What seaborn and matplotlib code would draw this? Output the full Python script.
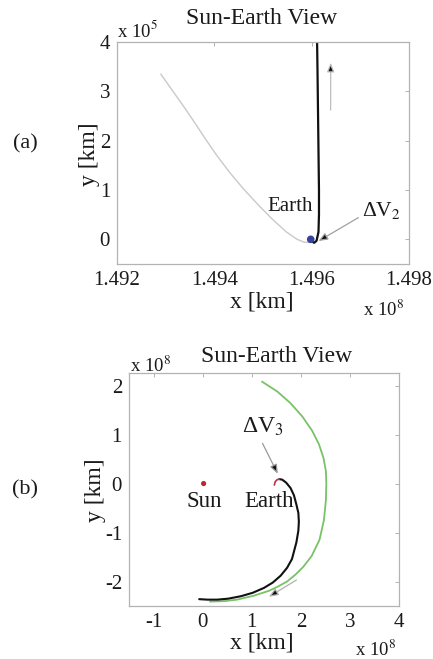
import matplotlib
matplotlib.use("Agg")
import matplotlib.pyplot as plt
import seaborn as sns
import pandas as pd

sns.set_theme(style="white")
plt.rcParams["font.family"] = ["Liberation Serif", "DejaVu Serif"]
plt.rcParams["mathtext.fontset"] = "stix"
plt.rcParams["axes.unicode_minus"] = False

# ---- panel (a): x in 1e8 km, y in 1e5 km ----
a_gray_x = [1.49290, 1.49315, 1.49340, 1.49362, 1.49382, 1.49405, 1.49432, 1.49460,
            1.49490, 1.49520, 1.49548, 1.49570, 1.49585, 1.49595, 1.49600]
a_gray_y = [3.35, 3.00, 2.65, 2.33, 2.03, 1.70, 1.35, 1.02,
            0.70, 0.40, 0.15, 0.00, -0.06, -0.06, -0.02]
a_black_x = [1.49600, 1.49605, 1.49610, 1.49614, 1.49615, 1.49615, 1.49614, 1.49613, 1.49612, 1.49611]
a_black_y = [-0.04, -0.07, -0.03, 0.15, 0.50, 1.00, 1.80, 2.60, 3.40, 4.10]
a_earth = (1.49598, 0.0)
a_xticks = [1.492, 1.494, 1.496, 1.498]
a_xticklabels = ["1.492", "1.494", "1.496", "1.498"]
a_yticks = [0, 1, 2, 3, 4]

# ---- panel (b): x and y in 1e8 km ----
b_green_x = [1.21, 1.52, 1.79, 2.03, 2.23, 2.37, 2.46, 2.51, 2.52, 2.51, 2.47, 2.38, 2.22,
             2.05, 1.89, 1.72, 1.52, 1.35, 1.04, 0.70, 0.44, 0.15]
b_green_y = [2.08, 1.88, 1.64, 1.37, 1.08, 0.80, 0.53, 0.26, 0.00, -0.35, -0.75, -1.15, -1.48,
             -1.70, -1.86, -2.00, -2.11, -2.19, -2.29, -2.37, -2.40, -2.41]
b_black_x = [1.56, 1.62, 1.70, 1.79, 1.86, 1.91, 1.95, 1.96, 1.95, 1.91, 1.82, 1.72, 1.59,
             1.43, 1.25, 1.02, 0.78, 0.52, 0.30, 0.10, -0.07]
b_black_y = [0.09, 0.08, 0.02, -0.09, -0.24, -0.43, -0.60, -0.78, -0.96, -1.20, -1.54, -1.72,
             -1.88, -2.02, -2.13, -2.23, -2.30, -2.35, -2.37, -2.37, -2.36]
b_red_x = [1.46, 1.48, 1.52, 1.56]
b_red_y = [-0.03, 0.04, 0.08, 0.09]
b_sun = (0.02, 0.0)
b_xticks = [-1, 0, 1, 2, 3, 4]
b_yticks = [-2, -1, 0, 1, 2]

GRAY_BOX = "#b3b3b3"
TXT = "#1a1a1a"

fig = plt.figure(figsize=(4.33, 6.59), dpi=100)
ax1 = fig.add_axes([0.2702, 0.5994, 0.6744, 0.3369])
ax2 = fig.add_axes([0.2979, 0.0804, 0.6236, 0.3531])


def style_axes(ax):
    for s in ax.spines.values():
        s.set_color(GRAY_BOX)
        s.set_linewidth(0.9)
    ax.tick_params(direction="in", length=3, width=0.7, color=GRAY_BOX,
                   top=True, right=True, labelsize=15, labelcolor=TXT, pad=5)


ARROW = "-|>,head_length=0.45,head_width=0.18"

# ---- panel (a) ----
sns.lineplot(data=pd.DataFrame({"x": a_gray_x, "y": a_gray_y}), x="x", y="y",
             sort=False, estimator=None, color="#c9c9c9", lw=1.0, ax=ax1)
sns.lineplot(data=pd.DataFrame({"x": a_black_x, "y": a_black_y}), x="x", y="y",
             sort=False, estimator=None, color="#111111", lw=1.6, ax=ax1)
sns.scatterplot(x=[a_earth[0]], y=[a_earth[1]], color="#34449a", s=30,
                edgecolor="none", ax=ax1, zorder=5)
ax1.set_xlim(1.492, 1.498)
ax1.set_ylim(-0.5, 4)
ax1.set_xticks(a_xticks)
ax1.set_xticklabels(a_xticklabels)
ax1.set_yticks(a_yticks)
style_axes(ax1)
ax1.set_xlabel("")
ax1.set_ylabel("")

ax1.annotate("", xy=(1.49639, 3.58), xytext=(1.49639, 2.62),
             arrowprops=dict(arrowstyle=ARROW, ec="#bdbdbd", fc="#111111", lw=0.9,
                             shrinkA=0, shrinkB=0))
ax1.annotate("", xy=(1.49614, -0.035), xytext=(1.49696, 0.44),
             arrowprops=dict(arrowstyle=ARROW, ec="#a0a0a0", fc="#111111", lw=0.9,
                             shrinkA=0, shrinkB=0))
ax1.text(1.49556, 0.665, "Earth", ha="center", va="center", fontsize=15, color=TXT)
ax1.text(1.49703, 0.58, "ΔV$_2$", ha="left", va="center", fontsize=15.5, color=TXT)

# ---- panel (b) ----
sns.lineplot(data=pd.DataFrame({"x": b_green_x, "y": b_green_y}), x="x", y="y",
             sort=False, estimator=None, color="#78c267", lw=1.3, ax=ax2)
sns.lineplot(data=pd.DataFrame({"x": b_black_x, "y": b_black_y}), x="x", y="y",
             sort=False, estimator=None, color="#111111", lw=1.5, ax=ax2)
sns.lineplot(data=pd.DataFrame({"x": b_red_x, "y": b_red_y}), x="x", y="y",
             sort=False, estimator=None, color="#c0303a", lw=1.2, ax=ax2)
sns.scatterplot(x=[b_sun[0]], y=[b_sun[1]], color="#c0282d", s=14,
                edgecolor="none", ax=ax2, zorder=5)
ax2.set_xlim(-1.5, 4)
ax2.set_ylim(-2.5, 2.25)
ax2.set_xticks(b_xticks)
ax2.set_yticks(b_yticks)
style_axes(ax2)
ax2.set_xlabel("")
ax2.set_ylabel("")

ax2.annotate("", xy=(1.53, 0.20), xytext=(1.22, 0.82),
             arrowprops=dict(arrowstyle=ARROW, ec="#9a9a9a", fc="#111111", lw=0.9,
                             shrinkA=0, shrinkB=0))
ax2.annotate("", xy=(1.35, -2.31), xytext=(1.91, -1.97),
             arrowprops=dict(arrowstyle=ARROW, ec="#b0b0b0", fc="#111111", lw=0.9,
                             shrinkA=0, shrinkB=0))
ax2.text(0.03, -0.37, "Sun", ha="center", va="center", fontsize=16.5, color=TXT)
ax2.text(1.35, -0.37, "Earth", ha="center", va="center", fontsize=16.5, color=TXT)
ax2.text(0.81, 1.15, "ΔV$_3$", ha="left", va="center", fontsize=17, color=TXT)

# ---- figure-level labels (pixel positions converted to figure fractions) ----
W, H = 433.0, 659.0


def ftext(px, py, s, **kw):
    fig.text(px / W, 1 - py / H, s, color=TXT, **kw)


ftext(262, 19, "Sun-Earth View", ha="center", va="center", fontsize=17)
ftext(262, 302, "x [km]", ha="center", va="center", fontsize=17)
ftext(90, 154, "y [km]", ha="center", va="center", fontsize=17, rotation=90)
ftext(25, 144, "(a)", ha="center", va="center", fontsize=16)
ftext(117, 37, "x 10$^5$", ha="left", va="baseline", fontsize=13.5)
ftext(363, 316, "x 10$^8$", ha="left", va="baseline", fontsize=13.5)

ftext(277, 357, "Sun-Earth View", ha="center", va="center", fontsize=17)
ftext(262, 643, "x [km]", ha="center", va="center", fontsize=17)
ftext(96, 490, "y [km]", ha="center", va="center", fontsize=17, rotation=90)
ftext(25, 490, "(b)", ha="center", va="center", fontsize=16)
ftext(130, 372, "x 10$^8$", ha="left", va="baseline", fontsize=13.5)
ftext(355, 656, "x 10$^8$", ha="left", va="baseline", fontsize=13.5)

fig.savefig("out.png", dpi=100, facecolor="white")
